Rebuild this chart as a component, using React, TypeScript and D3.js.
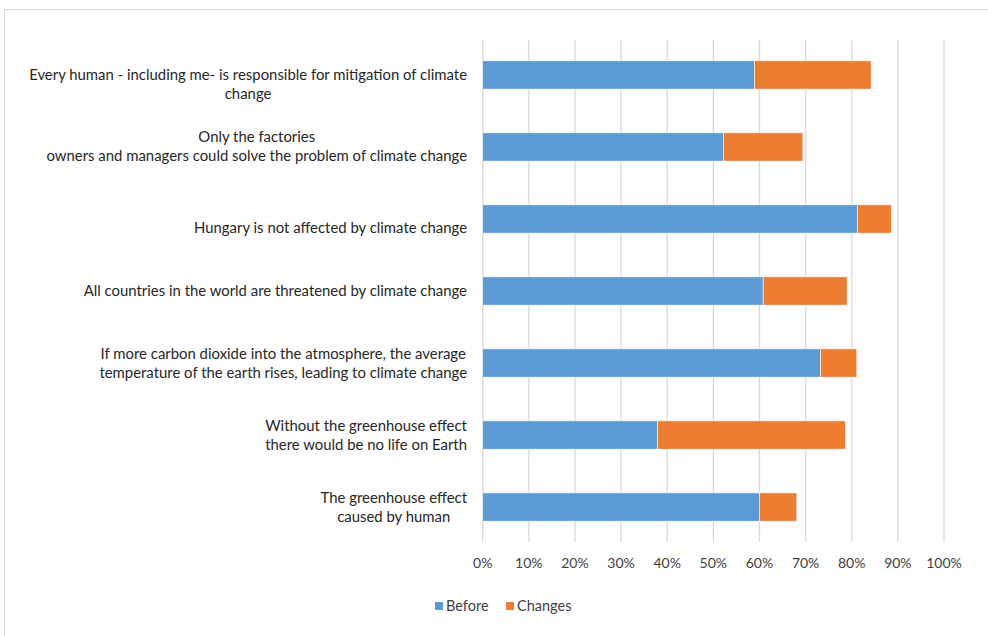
import React, { useEffect, useRef } from "react";
import * as d3 from "d3";

const categories: string[][] = [
  ["", "Every human - including me- is responsible for mitigation of climate", "change"],
  ["Only the factories", "owners and managers could solve the problem of climate change"],
  ["", "Hungary is not affected by climate change"],
  ["All countries in the world are threatened by climate change"],
  ["If more carbon dioxide into the atmosphere, the average", "temperature of the earth rises, leading to climate change"],
  ["Without the greenhouse effect", "there would be no life on Earth"],
  ["The greenhouse effect", "caused by human"],
];
const before: number[] = [0.589, 0.522, 0.812, 0.608, 0.732, 0.379, 0.600];
const changes: number[] = [0.253, 0.172, 0.074, 0.182, 0.079, 0.407, 0.081];
const ticks: number[] = [0, 0.1, 0.2, 0.3, 0.4, 0.5, 0.6, 0.7, 0.8, 0.9, 1.0];
const seriesNames: string[] = ["Before", "Changes"];
const colors: string[] = ["#5B9BD5", "#ED7D31"];

const W = 988;
const H = 636;
const FONT = "Lato, 'Liberation Sans', Arial, sans-serif";

export default function App() {
  const ref = useRef<SVGSVGElement | null>(null);

  useEffect(() => {
    const svg = d3.select(ref.current);
    svg.selectAll("*").remove();

    const x = d3.scaleLinear().domain([0, 1]).range([482.7, 944]);
    const ids = categories.map((_, i) => String(i));
    const y = d3
      .scaleBand<string>()
      .domain(ids)
      .range([40, 542])
      .paddingInner(0.607)
      .paddingOuter(0.289);

    // frame
    svg
      .append("rect")
      .attr("x", 4.5)
      .attr("y", 9.5)
      .attr("width", 1000)
      .attr("height", 700)
      .attr("fill", "#fff")
      .attr("stroke", "#d9d9d9")
      .attr("stroke-width", 1);

    // gridlines
    svg
      .append("g")
      .selectAll("line")
      .data(ticks)
      .join("line")
      .attr("x1", (d) => x(d))
      .attr("x2", (d) => x(d))
      .attr("y1", 40)
      .attr("y2", 542)
      .attr("stroke", "#d9d9d9")
      .attr("stroke-width", 1.3);

    // bars
    const stackData = categories.map((_, i) => ({
      id: String(i),
      Before: before[i],
      Changes: changes[i],
    }));
    const stack = d3.stack<any>().keys(seriesNames)(stackData);
    svg
      .append("g")
      .selectAll("g")
      .data(stack)
      .join("g")
      .attr("fill", (_, i) => colors[i])
      .selectAll("rect")
      .data((s) => s)
      .join("rect")
      .attr("x", (d) => x(d[0]))
      .attr("width", (d) => x(d[1]) - x(d[0]))
      .attr("y", (d: any) => y(d.data.id)!)
      .attr("height", y.bandwidth())
      .attr("stroke", "#ffffff")
      .attr("stroke-width", 0.6);

    // tick labels
    svg
      .append("g")
      .selectAll("text")
      .data(ticks)
      .join("text")
      .attr("x", (d) => x(d))
      .attr("y", 568)
      .attr("text-anchor", "middle")
      .attr("font-family", FONT)
      .attr("font-size", 14)
      .attr("fill", "#404040")
      .text((d) => d3.format(".0%")(d));

    // category labels
    const labelRight = 467;
    const lineH = 19;
    const lg = svg.append("g");
    categories.forEach((lines, i) => {
      const cy = y(String(i))! + y.bandwidth() / 2;
      const g = lg.append("g");
      const texts = lines.map((ln, j) =>
        g
          .append("text")
          .attr("y", cy + (j - (lines.length - 1) / 2) * lineH + 5)
          .attr("text-anchor", "middle")
          .attr("font-family", FONT)
          .attr("font-size", 14.9)
          .attr("fill", "#262626")
          .text(ln)
      );
      const maxW = d3.max(texts, (t) => (t.node() as SVGTextElement).getComputedTextLength()) || 0;
      texts.forEach((t) => t.attr("x", labelRight - maxW / 2));
    });

    // legend
    const leg = svg.append("g");
    const legItems = [
      { name: seriesNames[0], color: colors[0], x: 435 },
      { name: seriesNames[1], color: colors[1], x: 506 },
    ];
    legItems.forEach((it) => {
      leg
        .append("rect")
        .attr("x", it.x)
        .attr("y", 602)
        .attr("width", 8)
        .attr("height", 8)
        .attr("fill", it.color);
      leg
        .append("text")
        .attr("x", it.x + 11)
        .attr("y", 611)
        .attr("font-family", FONT)
        .attr("font-size", 14.5)
        .attr("fill", "#404040")
        .text(it.name);
    });
  }, []);

  return (
    <svg
      ref={ref}
      width={W}
      height={H}
      style={{ position: "absolute", left: 0, top: 0, background: "#fff" }}
    />
  );
}
